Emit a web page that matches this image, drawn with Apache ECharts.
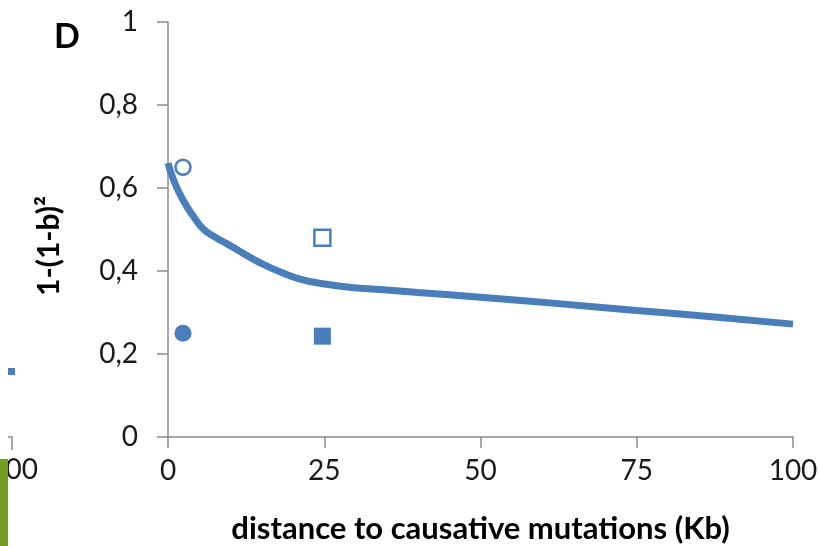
<!DOCTYPE html>
<html><head><meta charset="utf-8">
<script src="https://cdn.jsdelivr.net/npm/echarts@6/dist/echarts.min.js"></script>
<style>html,body{margin:0;padding:0;background:#fff}#c{width:819px;height:546px}</style>
</head><body><div id="c"></div>
<script>
const xTicks = [0, 25, 50, 75, 100];
const yTicks = [0, 0.2, 0.4, 0.6, 0.8, 1];
const curveX = [0, 1, 2.4, 4, 5.6, 7.5, 9.4, 11, 13, 15.5, 18.4, 21, 24, 29, 35, 40, 50, 62, 75, 87, 100];
const curveY = [0.66, 0.615, 0.571, 0.533, 0.502, 0.482, 0.466, 0.452, 0.434, 0.414, 0.395, 0.381, 0.371, 0.361, 0.354, 0.348, 0.337, 0.322, 0.305, 0.29, 0.272];
const openCircle = [[2.4, 0.65]];
const filledCircle = [[2.4, 0.25]];
const openSquare = [[24.7, 0.48]];
const filledSquare = [[24.7, 0.243]];

const blue = '#4a7ebb';
const axisGray = '#8c8c8c';
const chart = echarts.init(document.getElementById('c'));
chart.setOption({
  animation: false,
  grid: {left: 168, right: 26, top: 22, bottom: 109, containLabel: false, outerBoundsMode: 'none'},
  xAxis: {
    type: 'value', min: xTicks[0], max: xTicks[xTicks.length-1], interval: 25,
    name: 'distance to causative mutations (Kb)', nameLocation: 'middle', nameGap: 76,
    nameTextStyle: {fontFamily: 'Lato', fontWeight: 'bold', fontSize: 31, color: '#000'},
    axisLine: {show: true, lineStyle: {color: axisGray, width: 1.5}},
    axisTick: {show: true, length: 11, lineStyle: {color: axisGray, width: 1.5}},
    axisLabel: {margin: 20, fontFamily: 'Lato', fontSize: 28, color: '#1a1a1a'},
    splitLine: {show: false}
  },
  yAxis: {
    type: 'value', min: yTicks[0], max: yTicks[yTicks.length-1], interval: 0.2,
    axisLine: {show: true, lineStyle: {color: axisGray, width: 1.5}},
    axisTick: {show: true, length: 11, lineStyle: {color: axisGray, width: 1.5}},
    axisLabel: {margin: 30, fontFamily: 'Lato', fontSize: 28, color: '#1a1a1a',
      formatter: v => String(Math.round(v*10)/10).replace('.', ',')},
    splitLine: {show: false}
  },
  series: [
    {type: 'line', data: curveX.map((x,i)=>[x, curveY[i]]), smooth: 0.5, showSymbol: false,
     lineStyle: {color: blue, width: 7}, z: 2},
    {type: 'scatter', data: openCircle, symbol: 'circle', symbolSize: 15,
     itemStyle: {color: '#fff', borderColor: blue, borderWidth: 2.5, opacity: 1}, z: 3},
    {type: 'scatter', data: filledCircle, symbol: 'circle', symbolSize: 17,
     itemStyle: {color: blue, opacity: 1}, z: 3},
    {type: 'scatter', data: openSquare, symbol: 'rect', symbolSize: 16,
     itemStyle: {color: '#fff', borderColor: blue, borderWidth: 2.5, opacity: 1}, z: 3},
    {type: 'scatter', data: filledSquare, symbol: 'rect', symbolSize: 17,
     itemStyle: {color: blue, opacity: 1}, z: 3}
  ],
  graphic: [
    {type: 'text', x: 54, y: 20, style: {text: 'D', fontFamily: 'Lato', fontWeight: 'bold', fontSize: 34, fill: '#000'}},
    {type: 'text', x: 49, y: 246, rotation: Math.PI / 2,
     style: {text: '1-(1-b)²', align: 'center', verticalAlign: 'middle', fontFamily: 'Lato', fontWeight: 'bold', fontSize: 30, fill: '#000'}},
    {type: 'rect', shape: {x: 8, y: 368, width: 7, height: 7}, style: {fill: blue}},
    {type: 'polyline', shape: {points: [[8, 437], [12, 437], [12, 450]]}, style: {stroke: axisGray, lineWidth: 1.5, fill: null}},
    {type: 'text', x: 38, y: 456, style: {text: '100', align: 'right', verticalAlign: 'top', fontFamily: 'Lato', fontSize: 28, fill: '#1a1a1a'}},
    {type: 'rect', shape: {x: 0, y: 459, width: 8, height: 87}, style: {fill: '#739e1f'}, z: 10}
  ]
});
</script></body></html>
